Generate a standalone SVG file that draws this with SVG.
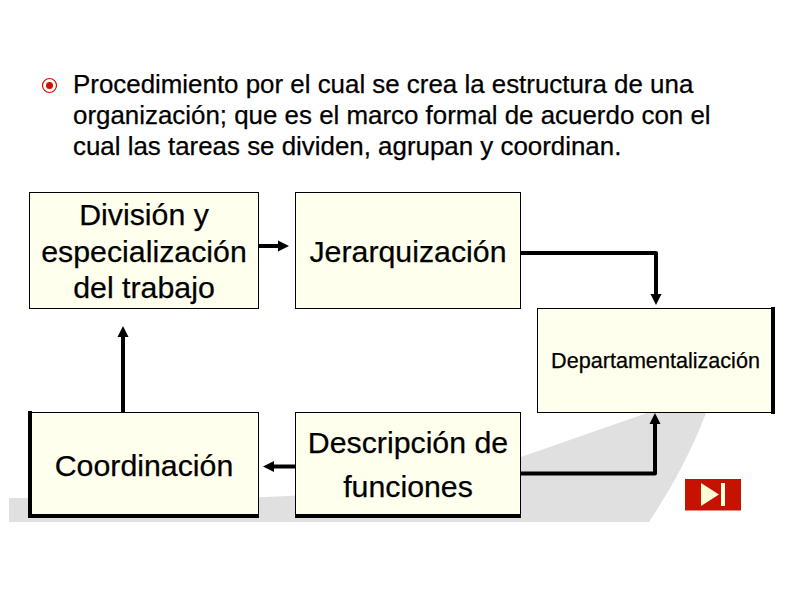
<svg xmlns="http://www.w3.org/2000/svg" width="790" height="597" viewBox="0 0 790 597">
<defs>
<style>
text{font-family:"Liberation Sans",Arial,sans-serif;fill:#000;stroke:#000;stroke-width:.25}
.body{font-size:25.900px}
.big{font-size:30.300px;text-anchor:middle}
.box{fill:#ffffee;stroke:#000;stroke-width:1}
.thick{stroke:#000;stroke-width:4;fill:none}
.conn{stroke:#000;stroke-width:4;fill:none;stroke-linejoin:round}
</style>
<marker id="arrow" markerUnits="userSpaceOnUse" markerWidth="12" markerHeight="12" refX="2" refY="6" orient="auto"><path d="M0,0.500L11,6L0,11.500Z" fill="#000"/></marker>
</defs>
<rect width="790" height="597" fill="#fff"/>
<path id="swoosh" d="M9,498L240,498C340,495 440,483 521,457L647,413L706,413C690,455 670,490 649,522L9,522Z" fill="#e0e0e0"/>
<g id="bullet"><circle cx="49.500" cy="85.500" r="7" fill="none" stroke="#cc1100" stroke-width="1.200"/><circle cx="49.500" cy="85.500" r="3.500" fill="#cc1100"/></g>
<g id="intro">
<text class="body" x="73" y="93">Procedimiento por el cual se crea la estructura de una</text>
<text class="body" x="73" y="124">organización; que es el marco formal de acuerdo con el</text>
<text class="body" x="73" y="155">cual las tareas se dividen, agrupan y coordinan.</text>
</g>
<g id="connectors">
<path class="conn" marker-end="url(#arrow)" d="M258,246H280"/>
<path class="conn" marker-end="url(#arrow)" d="M521,253H656V296"/>
<path class="conn" marker-end="url(#arrow)" d="M521,473.500H655V422"/>
<path class="conn" marker-end="url(#arrow)" d="M295,466.500H272"/>
<path class="conn" marker-end="url(#arrow)" d="M123,412V335"/>
</g>
<g id="division"><rect class="box" x="29.500" y="192.500" width="229" height="116"/>
<text class="big" x="144" y="225">División y</text><text class="big" x="144" y="262">especialización</text><text class="big" x="144" y="298">del trabajo</text></g>
<g id="jerarquizacion"><rect class="box" x="295.500" y="192.500" width="225" height="116"/>
<text class="big" x="408" y="262">Jerarquización</text></g>
<g id="departamentalizacion"><rect class="box" x="537.500" y="308.500" width="236" height="104"/><path class="thick" d="M773,307V414"/>
<text x="655.500" y="368" font-size="21.600" text-anchor="middle">Departamentalización</text></g>
<g id="coordinacion"><rect class="box" x="29.500" y="412.500" width="229" height="103"/><path class="thick" d="M30,411V516H259"/>
<text class="big" x="144" y="476">Coordinación</text></g>
<g id="descripcion"><rect class="box" x="295.500" y="412.500" width="225" height="103"/><path class="thick" d="M295,516H521"/>
<text class="big" x="408" y="453">Descripción de</text><text class="big" x="408" y="497">funciones</text></g>
<g id="next"><rect x="685" y="479" width="56" height="31.500" fill="#c61200"/><path d="M701,483L719,494.500L701,506Z" fill="#ffffd8"/><rect x="721" y="483" width="4" height="23" fill="#ffffd8"/></g>
</svg>
